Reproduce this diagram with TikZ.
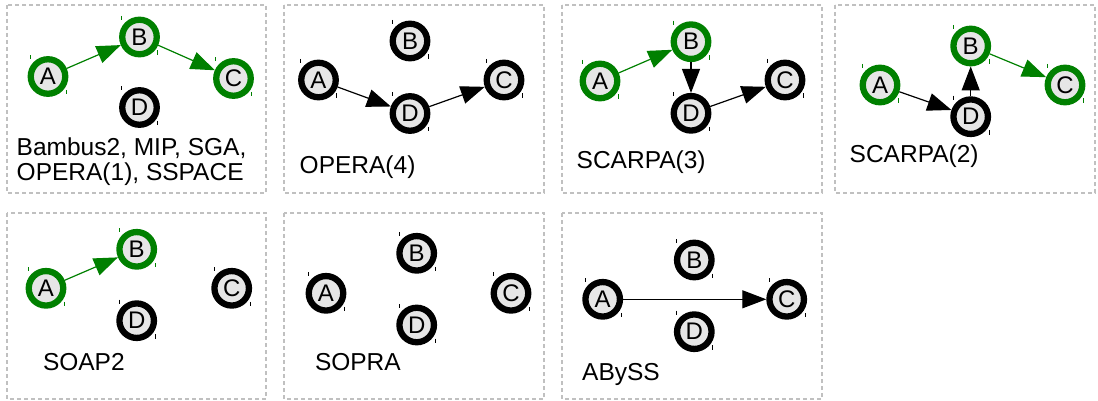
\documentclass[tikz,border=0pt]{standalone}
\usepackage{fontspec}
\setmainfont{Liberation Sans}
\usetikzlibrary{arrows.meta}
\definecolor{gr}{HTML}{008000}
\definecolor{nodefill}{HTML}{E6E6E6}
\definecolor{boxgray}{HTML}{C0C0C0}
\tikzset{
  vert/.style={circle, draw=#1, fill=nodefill, line width=6.3pt, minimum size=34.5pt, inner sep=0pt},
  vert/.default=black,
  panel/.style={draw=boxgray, line width=1.5pt, dash pattern=on 4pt off 3pt},
  lbl/.style={anchor=base west, inner sep=0pt, font=\fontsize{24.5}{24.3}\selectfont},
  edge/.style={draw=#1, line width=1.2pt, -{Triangle[length=24pt,width=18pt]}},
  tickmark/.style={draw=#1, line width=0.8pt},
}
\newcommand\vtx[4]{%
  \node[vert=#2] (#1) at (#3) {\fontsize{24}{26}\selectfont #4};
  \draw[tickmark=#2] ([shift={(-17.7,-21)}]#1.center) -- ++(0,4);
  \draw[tickmark=#2] ([shift={(18.3,13.5)}]#1.center) -- ++(0,4.5);
}
\begin{document}
\begin{tikzpicture}[x=1pt,y=-1pt]
\useasboundingbox (0,0) rectangle (1098,401);
% panels
\draw[panel] (7,5) rectangle (266,193);
\draw[panel] (284,5) rectangle (544,193);
\draw[panel] (562,5) rectangle (822,193);
\draw[panel] (835,5) rectangle (1095,193);
\draw[panel] (7,213) rectangle (266,399);
\draw[panel] (284,213) rectangle (544,399);
\draw[panel] (562,213) rectangle (822,399);
% panel 1
\vtx{a1}{gr}{48,76.5}{A}
\vtx{b1}{gr}{139.5,37}{B}
\vtx{c1}{gr}{233.5,78.5}{C}
\vtx{d1}{black}{139.5,107.5}{D}
\draw[edge=gr] (a1) -- (b1);
\draw[edge=gr] (b1) -- (c1);
\node[lbl] (t1a) at (16.5,156) {Bambus2, MIP, SGA,};
\node[lbl] (t1b) at (16.5,180) {OPERA(1), SSPACE};
% panel 2
\vtx{a2}{black}{318.5,80}{A}
\vtx{b2}{black}{410,41}{B}
\vtx{c2}{black}{504,80}{C}
\vtx{d2}{black}{410,113.5}{D}
\draw[edge=black] (a2) -- (d2);
\draw[edge=black] (d2) -- (c2);
\node[lbl] (t2) at (299.5,173.3) {OPERA(4)};
% panel 3
\vtx{a3}{gr}{600,81}{A}
\vtx{b3}{gr}{691,41.7}{B}
\vtx{c3}{black}{785,80}{C}
\vtx{d3}{black}{691,113.3}{D}
\draw[edge=gr] (a3) -- (b3);
\draw[edge=black] (b3) -- (d3);
\draw[edge=black] (d3) -- (c3);
\node[lbl] (t3) at (576.5,168.3) {SCARPA(3)};
% panel 4
\vtx{a4}{gr}{880,85}{A}
\vtx{b4}{gr}{970.7,46}{B}
\vtx{c4}{gr}{1065,85}{C}
\vtx{d4}{black}{970.7,116.7}{D}
\draw[edge=black] (a4) -- (d4);
\draw[edge=black] (d4) -- (b4);
\draw[edge=gr] (b4) -- (c4);
\node[lbl] (t4) at (849.5,162.3) {SCARPA(2)};
% panel 5
\vtx{a5}{gr}{46,288.3}{A}
\vtx{b5}{gr}{136.7,249.3}{B}
\vtx{c5}{black}{231.7,288.3}{C}
\vtx{d5}{black}{136.7,320.7}{D}
\draw[edge=gr] (a5) -- (b5);
\node[lbl] (t5) at (42.8,370.7) {SOAP2};
% panel 6
\vtx{a6}{black}{326,293.3}{A}
\vtx{b6}{black}{416.7,253.3}{B}
\vtx{c6}{black}{511,293.3}{C}
\vtx{d6}{black}{416.7,325}{D}
\node[lbl] (t6) at (314.8,370.7) {SOPRA};
% panel 7
\vtx{a7}{black}{602.7,299.3}{A}
\vtx{b7}{black}{694.3,260}{B}
\vtx{c7}{black}{786.7,299.3}{C}
\vtx{d7}{black}{694.3,331.7}{D}
\draw[edge=black] (a7) -- (c7);
\node[lbl] (t7) at (582,380) {ABySS};
\end{tikzpicture}
\end{document}
